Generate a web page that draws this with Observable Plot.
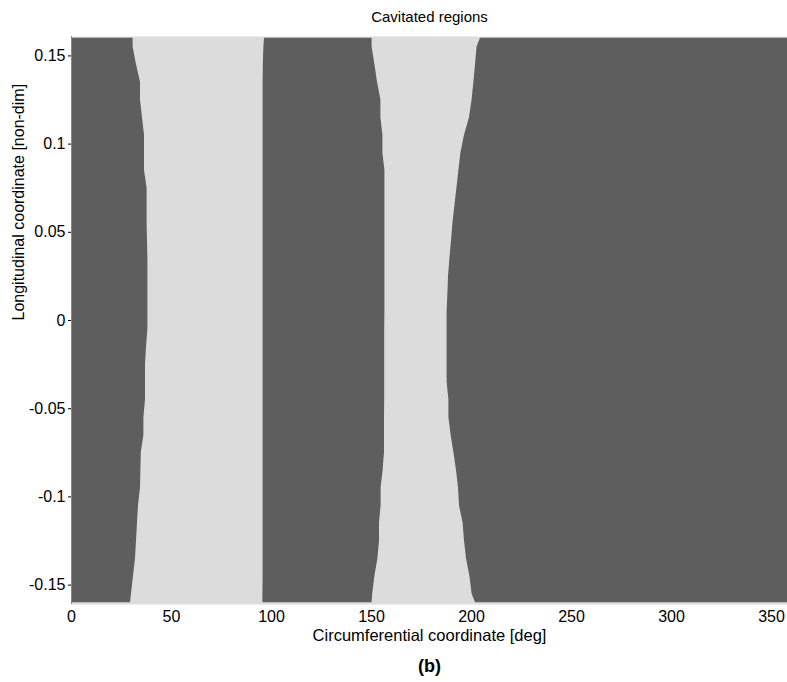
<!DOCTYPE html>
<html>
<head>
<meta charset="utf-8">
<script src="https://cdn.jsdelivr.net/npm/d3@7"></script>
<script src="https://cdn.jsdelivr.net/npm/@observablehq/plot@0.6"></script>
<style>
  html, body { margin: 0; padding: 0; background: #fff; }
  #chart svg { display: block; }
</style>
</head>
<body>
<div id="chart"></div>
<script>
// Longitudinal coordinate levels (non-dim)
const levels = [0.16, 0.155, 0.145, 0.135, 0.125, 0.115, 0.105, 0.095, 0.085, 0.075, 0.065, 0.055, 0.045, 0.035, 0.025, 0.015, 0.005,
  -0.005, -0.015, -0.025, -0.035, -0.045, -0.055, -0.065, -0.075, -0.085, -0.095, -0.105, -0.115, -0.125, -0.135, -0.145, -0.155, -0.16];
// Cavitated region 1: from 0 to firstEnd (deg)
const firstEnd = [30.8, 30.8, 32.5, 34.5, 34.5, 35.5, 36.5, 36.5, 36.5, 37.8, 37.8, 37.8, 38.0, 38.2, 38.2, 38.2, 38.2,
  38.2, 37.5, 37.0, 37.0, 37.0, 36.2, 36.2, 34.9, 34.7, 34.5, 33.5, 33.0, 32.5, 32.0, 31.0, 30.0, 29.5];
// Cavitated region 2: secondStart to secondEnd (deg)
const secondStart = [96.5, 96.2, 95.9, 95.8, 95.8, 95.8, 95.8, 95.8, 95.8, 95.8, 95.8, 95.8, 95.8, 95.8, 95.8, 95.8, 95.8,
  95.8, 95.8, 95.8, 95.8, 95.8, 95.8, 95.8, 95.8, 95.8, 95.8, 95.8, 95.8, 95.8, 95.8, 95.8, 95.7, 95.7];
const secondEnd = [150.3, 150.3, 151.7, 153.0, 154.7, 154.7, 155.7, 155.7, 156.7, 156.7, 156.7, 156.7, 156.7, 156.7, 156.7, 156.7, 156.7,
  156.6, 156.6, 156.6, 156.6, 156.6, 156.5, 156.5, 156.5, 155.8, 154.8, 154.8, 154.0, 154.0, 153.2, 151.7, 150.6, 150.3];
// Cavitated region 3: from thirdStart to 360 (deg)
const thirdStart = [204.5, 202.8, 202.0, 201.2, 200.3, 199.0, 196.5, 194.7, 193.7, 192.7, 191.7, 190.7, 190.0, 189.2, 188.5, 188.2, 187.8,
  187.8, 187.8, 187.8, 187.8, 188.7, 188.7, 189.8, 191.2, 192.5, 193.5, 194.0, 195.8, 196.5, 197.5, 199.2, 200.3, 202.0];
const xEnd = 360;
const xTicks = [0, 50, 100, 150, 200, 250, 300, 350];
const yTicks = [-0.15, -0.1, -0.05, 0, 0.05, 0.1, 0.15];

const rows = levels.map((v, i) => ({
  v, a0: 0, a1: firstEnd[i], b0: secondStart[i], b1: secondEnd[i], c0: thirdStart[i], c1: xEnd
}));

const DARK = "#5e5e5e";
const LIGHT = "#dcdcdc";
const FONT = "Liberation Sans, Arial, sans-serif";

const chart = Plot.plot({
  width: 787,
  height: 682,
  marginLeft: 71,
  marginRight: 0,
  marginTop: 36,
  marginBottom: 78,
  style: { fontFamily: FONT, fontSize: "16px", color: "#000", background: "#fff" },
  x: { domain: [0, 358], ticks: xTicks },
  y: { domain: [-0.161, 0.161], ticks: yTicks },
  marks: [
    Plot.frame({ fill: LIGHT }),
    Plot.areaX(rows, { y: "v", x1: "a0", x2: "a1", fill: DARK, curve: "linear", clip: true }),
    Plot.areaX(rows, { y: "v", x1: "b0", x2: "b1", fill: DARK, curve: "linear", clip: true }),
    Plot.areaX(rows, { y: "v", x1: "c0", x2: "c1", fill: DARK, curve: "linear", clip: true }),
    Plot.ruleX([0], { stroke: "#888", strokeWidth: 1 }),
    Plot.axisX({ ticks: xTicks, tickSize: 0, tickPadding: 6, label: null, tickFormat: d => String(d), fontSize: 16 }),
    Plot.axisY({ ticks: yTicks, tickSize: 3, tickPadding: 3, label: null, tickFormat: d => String(+d.toFixed(2)), fontSize: 16 }),
    Plot.text(["Cavitated regions"], { frameAnchor: "top", dy: -25, fontSize: 15, fill: "#000" }),
    Plot.text(["Circumferential coordinate [deg]"], { frameAnchor: "bottom", dy: 36, fontSize: 16.5, fill: "#000" }),
    Plot.text(["(b)"], { frameAnchor: "bottom", dy: 67, fontSize: 18, fontWeight: "bold", fill: "#000" }),
    Plot.text(["Longitudinal coordinate [non-dim]"], { frameAnchor: "left", dx: -53, rotate: -90, fontSize: 16, fill: "#000" })
  ]
});
document.getElementById("chart").appendChild(chart);
</script>
</body>
</html>
